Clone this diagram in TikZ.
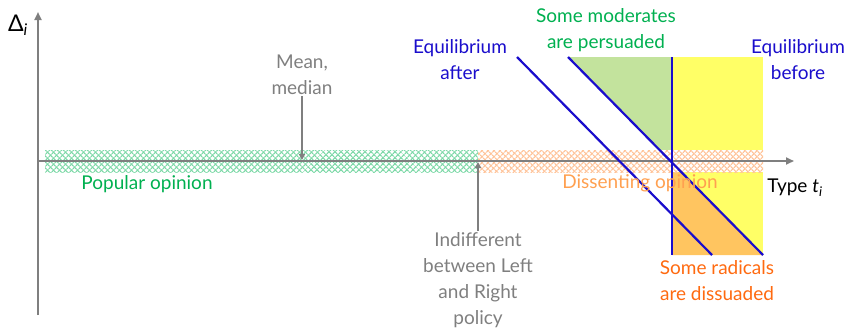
\documentclass[tikz,border=0pt]{standalone}
\usepackage{fontspec}
\setmainfont{Lato}
\usepackage{xcolor}
\definecolor{axisGray}{HTML}{7F7F7F}
\definecolor{eqBlue}{HTML}{1A0DCC}
\definecolor{popGreen}{HTML}{00B050}
\definecolor{hatchGreen}{HTML}{7ED9A8}
\definecolor{hatchOrange}{HTML}{FFC49A}
\definecolor{dissentOrange}{HTML}{FFA050}
\definecolor{radicalOrange}{HTML}{FF6A10}
\definecolor{persuadeGreen}{HTML}{C3E39D}
\definecolor{beforeYellow}{HTML}{FFFF66}
\definecolor{dissuadeOrange}{HTML}{FFC560}
\usetikzlibrary{arrows.meta,patterns.meta,positioning}
\newcommand{\notefont}{\fontsize{19}{26}\selectfont}
\newcommand{\subvar}[2]{#1\textsubscript{\itshape #2}}
\tikzset{
    % Axes of the type space
    axis line/.style={
        draw=axisGray,
        line width=2.2pt,
        -{Triangle[length=8pt, width=7pt]},
    },
    % Grey pointer arrows from the notes
    pointer/.style={
        draw=axisGray,
        line width=2.2pt,
        -{Triangle[length=6pt, width=6pt]},
    },
    % Hatched opinion bands
    band/.style={
        draw=none,
        preaction={fill=white},
        preaction={pattern={Lines[angle=45, distance=4pt, line width=1.3pt]}, pattern color=#1},
        pattern={Lines[angle=-45, distance=4pt, line width=1.3pt]},
        pattern color=#1,
    },
    % Equilibrium lines
    eq line/.style={
        draw=eqBlue,
        line width=2.2pt,
    },
    % Text notes
    note/.style={
        font=\notefont,
        align=center,
        text=#1,
        inner sep=1pt,
    },
}

\begin{document}
\begin{tikzpicture}[x=1pt, y=-1pt]
    \useasboundingbox (0,0) rectangle (850,332);

    % regions
    \fill[beforeYellow] (672,57) rectangle (763,255);
    \fill[persuadeGreen] (568,57) -- (672,57) -- (672,163) -- cycle;
    \fill[dissuadeOrange] (672,163) -- (672,255) -- (763,255) -- cycle;

    % opinion bands
    \path[band=hatchGreen] (45,150) rectangle (478,172);
    \path[band=hatchOrange] (478,150) rectangle (763,172);

    % axes
    \coordinate (origin) at (38,161);
    \coordinate (ytop) at (38,12);
    \coordinate (ybot) at (38,315);
    \coordinate (xend) at (794,161);
    \draw[axis line] (ybot) -- (ytop);
    \draw[axis line] (origin) -- (xend);

    % equilibrium lines
    \coordinate (after top) at (517,57);
    \coordinate (after bot) at (712,255);
    \coordinate (before top) at (568,57);
    \coordinate (before bot) at (763,255);
    \coordinate (cut top) at (672,57);
    \coordinate (cut bot) at (672,255);
    \draw[eq line] (after top) -- (after bot);
    \draw[eq line] (before top) -- (before bot);
    \draw[eq line] (cut top) -- (cut bot);

    % labels
    \node (delta) [note=black, font=\fontsize{23}{26}\selectfont] at (18,25) {\subvar{Δ}{i}};
    \node (mean) [note=axisGray] at (302,75) {Mean,\\median};
    \node (indiff) [note=axisGray] at (478,280) {Indifferent\\between Left\\and Right\\policy};
    \node (eqafter) [note=eqBlue] at (460,60) {Equilibrium\\after};
    \node (moderates) [note=popGreen] at (606,30) {Some moderates\\are persuaded};
    \node (eqbefore) [note=eqBlue] at (798,60) {Equilibrium\\before};
    \node (popular) [note=popGreen] at (147,184) {Popular opinion};
    \node (dissent) [note=dissentOrange] at (640,183) {Dissenting opinion};
    \node (type) [note=black] at (795,188) {Type \subvar{\itshape t}{i}};
    \node (radicals) [note=radicalOrange] at (717,281) {Some radicals\\are dissuaded};

    % pointers
    \coordinate (mean pt) at (302,160);
    \coordinate (indiff pt) at (478,162);
    \draw[pointer] (mean) -- (mean pt);
    \draw[pointer] (indiff) -- (indiff pt);
\end{tikzpicture}
\end{document}
